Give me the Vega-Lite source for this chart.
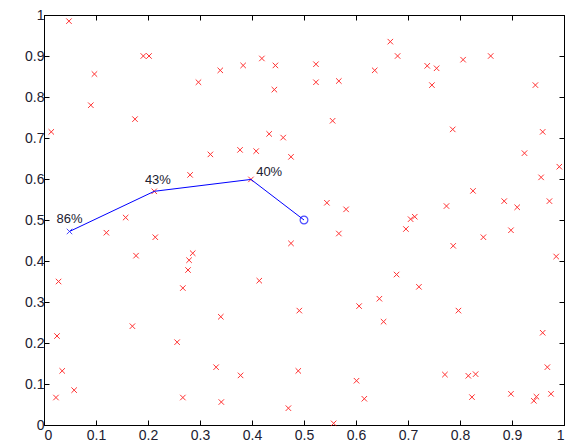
{
  "$schema": "https://vega.github.io/schema/vega-lite/v6.json",
  "width": 520,
  "height": 410,
  "autosize": {"type": "none"},
  "padding": {"left": 44, "top": 15, "right": 12, "bottom": 23},
  "background": "white",
  "config": {
    "view": {"stroke": "black", "strokeWidth": 1},
    "axis": {
      "domainColor": "black",
      "tickColor": "black",
      "tickSize": -5,
      "grid": false,
      "title": null,
      "labelFont": "Liberation Sans",
      "labelFontSize": 14,
      "labelColor": "#202030",
      "format": "~g",
      "values": [0, 0.1, 0.2, 0.3, 0.4, 0.5, 0.6, 0.7, 0.8, 0.9, 1]
    }
  },
  "datasets": {
    "pts": [
      {"x": 0.048, "y": 0.985}, {"x": 0.014, "y": 0.715}, {"x": 0.097, "y": 0.856}, {"x": 0.090, "y": 0.780},
      {"x": 0.191, "y": 0.900}, {"x": 0.202, "y": 0.900}, {"x": 0.175, "y": 0.746}, {"x": 0.297, "y": 0.836},
      {"x": 0.339, "y": 0.865}, {"x": 0.383, "y": 0.877}, {"x": 0.419, "y": 0.894}, {"x": 0.445, "y": 0.877},
      {"x": 0.443, "y": 0.818}, {"x": 0.433, "y": 0.710}, {"x": 0.460, "y": 0.701}, {"x": 0.475, "y": 0.654},
      {"x": 0.320, "y": 0.660}, {"x": 0.377, "y": 0.671}, {"x": 0.408, "y": 0.668}, {"x": 0.281, "y": 0.610},
      {"x": 0.398, "y": 0.599}, {"x": 0.212, "y": 0.570}, {"x": 0.157, "y": 0.506}, {"x": 0.666, "y": 0.935},
      {"x": 0.680, "y": 0.900}, {"x": 0.523, "y": 0.880}, {"x": 0.523, "y": 0.836}, {"x": 0.567, "y": 0.839},
      {"x": 0.636, "y": 0.865}, {"x": 0.737, "y": 0.876}, {"x": 0.755, "y": 0.870}, {"x": 0.746, "y": 0.829},
      {"x": 0.806, "y": 0.891}, {"x": 0.859, "y": 0.900}, {"x": 0.945, "y": 0.829}, {"x": 0.555, "y": 0.742},
      {"x": 0.786, "y": 0.721}, {"x": 0.959, "y": 0.715}, {"x": 0.924, "y": 0.663}, {"x": 0.991, "y": 0.630},
      {"x": 0.956, "y": 0.604}, {"x": 0.825, "y": 0.571}, {"x": 0.544, "y": 0.542}, {"x": 0.581, "y": 0.526},
      {"x": 0.774, "y": 0.534}, {"x": 0.885, "y": 0.546}, {"x": 0.910, "y": 0.531}, {"x": 0.972, "y": 0.546},
      {"x": 0.705, "y": 0.502}, {"x": 0.713, "y": 0.508}, {"x": 0.696, "y": 0.478}, {"x": 0.567, "y": 0.467},
      {"x": 0.475, "y": 0.443}, {"x": 0.845, "y": 0.458}, {"x": 0.898, "y": 0.475}, {"x": 0.787, "y": 0.437},
      {"x": 0.985, "y": 0.411}, {"x": 0.678, "y": 0.367}, {"x": 0.721, "y": 0.337}, {"x": 0.645, "y": 0.308},
      {"x": 0.606, "y": 0.290}, {"x": 0.491, "y": 0.279}, {"x": 0.797, "y": 0.279}, {"x": 0.653, "y": 0.252},
      {"x": 0.959, "y": 0.225}, {"x": 0.968, "y": 0.141}, {"x": 0.489, "y": 0.132}, {"x": 0.601, "y": 0.108},
      {"x": 0.771, "y": 0.123}, {"x": 0.816, "y": 0.120}, {"x": 0.830, "y": 0.124}, {"x": 0.823, "y": 0.068},
      {"x": 0.616, "y": 0.064}, {"x": 0.898, "y": 0.076}, {"x": 0.947, "y": 0.069}, {"x": 0.942, "y": 0.059},
      {"x": 0.975, "y": 0.076}, {"x": 0.557, "y": 0.004}, {"x": 0.470, "y": 0.041}, {"x": 0.120, "y": 0.469},
      {"x": 0.214, "y": 0.458}, {"x": 0.177, "y": 0.413}, {"x": 0.286, "y": 0.419}, {"x": 0.279, "y": 0.402},
      {"x": 0.277, "y": 0.378}, {"x": 0.267, "y": 0.334}, {"x": 0.028, "y": 0.350}, {"x": 0.414, "y": 0.352},
      {"x": 0.340, "y": 0.264}, {"x": 0.170, "y": 0.241}, {"x": 0.025, "y": 0.217}, {"x": 0.256, "y": 0.202},
      {"x": 0.331, "y": 0.141}, {"x": 0.035, "y": 0.132}, {"x": 0.378, "y": 0.121}, {"x": 0.058, "y": 0.085},
      {"x": 0.023, "y": 0.067}, {"x": 0.267, "y": 0.067}, {"x": 0.341, "y": 0.056}
    ],
    "path": [
      {"step": 1, "x": 0.049, "y": 0.472},
      {"step": 2, "x": 0.212, "y": 0.570},
      {"step": 3, "x": 0.398, "y": 0.599},
      {"step": 4, "x": 0.500, "y": 0.500}
    ],
    "labels": [
      {"x": 0.024, "y": 0.502, "text": "86%"},
      {"x": 0.194, "y": 0.598, "text": "43%"},
      {"x": 0.408, "y": 0.618, "text": "40%"}
    ]
  },
  "layer": [
    {
      "data": {"name": "pts"},
      "mark": {"type": "point", "shape": "M-1,-1L1,1M-1,1L1,-1", "size": 30, "filled": false, "stroke": "#ff0000", "strokeWidth": 1, "opacity": 0.8},
      "encoding": {
        "x": {"field": "x", "type": "quantitative", "scale": {"domain": [0, 1], "nice": false, "zero": false}, "axis": {"orient": "bottom", "labelPadding": 8}},
        "y": {"field": "y", "type": "quantitative", "scale": {"domain": [0, 1], "nice": false, "zero": false}, "axis": {"orient": "left", "labelPadding": 5}}
      }
    },
    {
      "data": {"name": "path"},
      "mark": {"type": "line", "stroke": "#0000ff", "strokeWidth": 1},
      "encoding": {
        "x": {"field": "x", "type": "quantitative", "axis": {"orient": "top", "labels": false}},
        "y": {"field": "y", "type": "quantitative", "axis": {"orient": "right", "labels": false}},
        "order": {"field": "step", "type": "quantitative"}
      }
    },
    {
      "data": {"name": "path"},
      "transform": [{"filter": "datum.step == 1"}],
      "mark": {"type": "point", "shape": "M-1,-1L1,1M-1,1L1,-1", "size": 30, "filled": false, "stroke": "#0000ff", "strokeWidth": 1},
      "encoding": {
        "x": {"field": "x", "type": "quantitative", "axis": null},
        "y": {"field": "y", "type": "quantitative", "axis": null}
      }
    },
    {
      "data": {"name": "path"},
      "transform": [{"filter": "datum.step == 4"}],
      "mark": {"type": "point", "shape": "circle", "size": 60, "filled": false, "stroke": "#0000ff", "strokeWidth": 1.2},
      "encoding": {
        "x": {"field": "x", "type": "quantitative", "axis": null},
        "y": {"field": "y", "type": "quantitative", "axis": null}
      }
    },
    {
      "data": {"name": "labels"},
      "mark": {"type": "text", "align": "left", "baseline": "middle", "font": "Liberation Sans", "fontSize": 13, "color": "#202030"},
      "encoding": {
        "x": {"field": "x", "type": "quantitative", "axis": null},
        "y": {"field": "y", "type": "quantitative", "axis": null},
        "text": {"field": "text"}
      }
    }
  ],
  "resolve": {"axis": {"x": "independent", "y": "independent"}}
}
